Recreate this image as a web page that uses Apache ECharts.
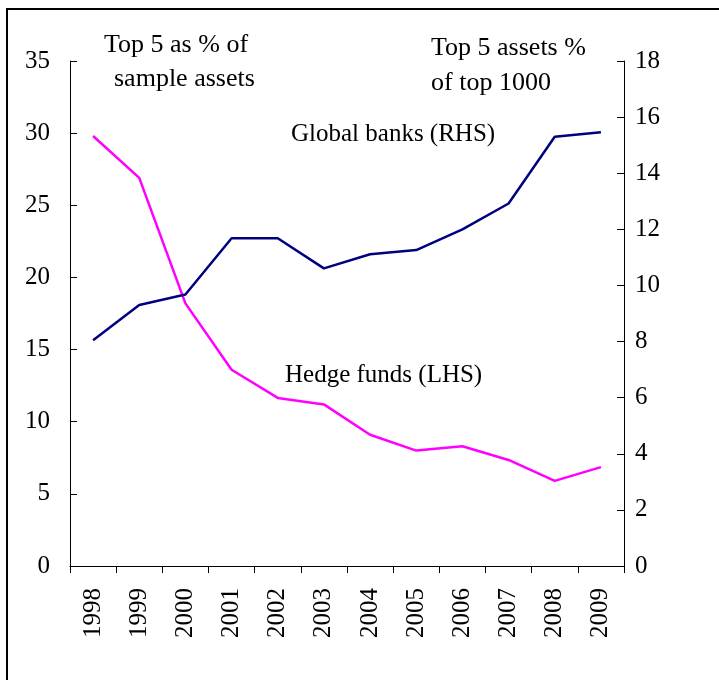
<!DOCTYPE html>
<html>
<head>
<meta charset="utf-8">
<script src="https://cdn.jsdelivr.net/npm/echarts@6/dist/echarts.min.js"></script>
<style>
  html, body { margin: 0; padding: 0; background: #fff; }
  #frame { position: absolute; left: 6px; top: 8px; width: 740px; height: 700px; border: 2px solid #000; box-sizing: border-box; }
  #chart { position: absolute; left: 0; top: 0; width: 719px; height: 680px; }
</style>
</head>
<body>
<div id="frame"></div>
<div id="chart"></div>
<script>
// 年份
const years = ['1998', '1999', '2000', '2001', '2002', '2003', '2004', '2005', '2006', '2007', '2008', '2009'];
// 对冲基金 (左轴)
const hedgeFunds = [29.8, 26.9, 18.2, 13.6, 11.65, 11.2, 9.1, 8.0, 8.3, 7.35, 5.9, 6.85];
// 全球银行 (右轴)
const globalBanks = [8.05, 9.3, 9.68, 11.68, 11.68, 10.61, 11.11, 11.26, 12.0, 12.92, 15.3, 15.46];

const serif = '"Liberation Serif", "Times New Roman", serif';

const chart = echarts.init(document.getElementById('chart'));

let options = {
  animation: false,
  textStyle: { fontFamily: serif, color: '#000' },
  grid: { left: 70, right: 95, top: 61, bottom: 114, containLabel: false },

  xAxis: {
    type: 'category',
    data: years,
    boundaryGap: true,
    axisLine: { lineStyle: { color: '#000', width: 1 } },
    axisTick: { show: true, length: 7, lineStyle: { color: '#000' } },
    axisLabel: { rotate: 90, margin: 22, fontSize: 25, color: '#000', fontFamily: serif }
  },

  yAxis: [
    {
      type: 'value',
      min: 0, max: 35, interval: 5,
      position: 'left',
      splitLine: { show: false },
      axisLine: { show: true, lineStyle: { color: '#000', width: 1 } },
      axisTick: { show: true, inside: true, length: 7, lineStyle: { color: '#000' } },
      axisLabel: { margin: 20, fontSize: 25, color: '#000', fontFamily: serif }
    },
    {
      type: 'value',
      min: 0, max: 18, interval: 2,
      position: 'right',
      splitLine: { show: false },
      axisLine: { show: true, lineStyle: { color: '#000', width: 1 } },
      axisTick: { show: true, inside: true, length: 7, lineStyle: { color: '#000' } },
      axisLabel: { margin: 11, fontSize: 25, color: '#000', fontFamily: serif }
    }
  ],

  graphic: [
    { type: 'text', left: 104, top: 32, style: { text: 'Top 5 as % of', font: '26px ' + serif, fill: '#000' } },
    { type: 'text', left: 114, top: 66, style: { text: 'sample assets', font: '26px ' + serif, fill: '#000' } },
    { type: 'text', left: 431, top: 35, style: { text: 'Top 5 assets %', font: '26px ' + serif, fill: '#000' } },
    { type: 'text', left: 431, top: 70, style: { text: 'of top 1000', font: '26px ' + serif, fill: '#000' } },
    { type: 'text', left: 291, top: 122, style: { text: 'Global banks (RHS)', font: '25px ' + serif, fill: '#000' } },
    { type: 'text', left: 285, top: 363, style: { text: 'Hedge funds (LHS)', font: '25px ' + serif, fill: '#000' } }
  ],

  series: [
    {
      name: 'Hedge funds (LHS)',
      type: 'line',
      yAxisIndex: 0,
      data: hedgeFunds,
      symbol: 'none',
      lineStyle: { color: '#FF00FF', width: 2.5 }
    },
    {
      name: 'Global banks (RHS)',
      type: 'line',
      yAxisIndex: 1,
      data: globalBanks,
      symbol: 'none',
      lineStyle: { color: '#000080', width: 2.5 }
    }
  ]
};

chart.setOption(options);
</script>
</body>
</html>
